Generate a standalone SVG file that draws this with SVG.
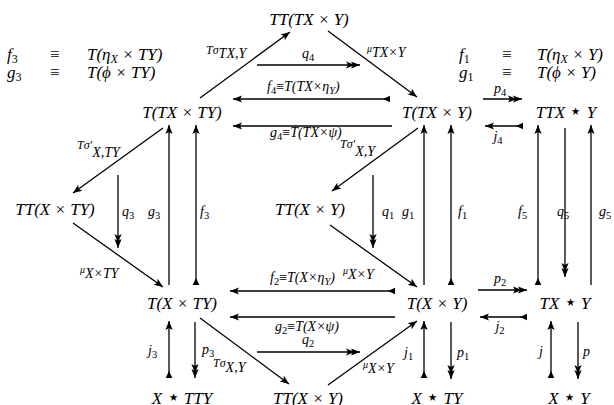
<svg xmlns="http://www.w3.org/2000/svg" width="614" height="405" viewBox="0 0 614 405">
<style>
text { font-family: "Liberation Serif", "DejaVu Serif", serif; font-style: italic; fill: #000; }
.n { font-size: 17px; text-anchor: middle; }
.d { font-size: 17px; }
.l { font-size: 14px; }
.m { text-anchor: middle; }
.up { font-style: normal; }
.st { font-size: 21px; font-style: normal; }
.c line { stroke: #000; stroke-width: 1.3; fill: none; }
</style>
<defs>
<marker id="h" markerUnits="userSpaceOnUse" markerWidth="12" markerHeight="10" viewBox="-10 -5 12 10" refX="0" refY="0" orient="auto"><path d="M-9,-3.6 L0,0 L-9,3.6 L-7,0 Z" fill="#000"/></marker>
<marker id="hh" markerUnits="userSpaceOnUse" markerWidth="17" markerHeight="10" viewBox="-15 -5 17 10" refX="0" refY="0" orient="auto"><path d="M-9,-3.6 L0,0 L-9,3.6 L-7,0 Z M-14,-3.6 L-5,0 L-14,3.6 L-12,0 Z" fill="#000"/></marker>
<marker id="t" markerUnits="userSpaceOnUse" markerWidth="10" markerHeight="10" viewBox="-1 -5 10 10" refX="0" refY="0" orient="auto"><path d="M0,-3.3 L7,0 L0,3.3 Z" fill="#000"/></marker>
</defs>

<g id="definitions">
<text class="d" x="7" y="60">f<tspan class="up" font-size="12" dy="3">3</tspan></text>
<text class="d" x="50" y="60" style="font-style:normal">≡</text>
<text class="d" x="87" y="60">T(η<tspan font-size="12" dy="3">X</tspan><tspan dy="-3"> × TY)</tspan></text>
<text class="d" x="7" y="78">g<tspan class="up" font-size="12" dy="3">3</tspan></text>
<text class="d" x="50" y="78" style="font-style:normal">≡</text>
<text class="d" x="87" y="78">T(ϕ × TY)</text>
<text class="d" x="459" y="60">f<tspan class="up" font-size="12" dy="3">1</tspan></text>
<text class="d" x="502" y="60" style="font-style:normal">≡</text>
<text class="d" x="537" y="60">T(η<tspan font-size="12" dy="3">X</tspan><tspan dy="-3"> × Y)</tspan></text>
<text class="d" x="459" y="78">g<tspan class="up" font-size="12" dy="3">1</tspan></text>
<text class="d" x="502" y="78" style="font-style:normal">≡</text>
<text class="d" x="537" y="78">T(ϕ × Y)</text>
</g>

<g id="n_TT_TXxY"><text class="n" x="309" y="25">TT(TX × Y)</text></g>
<g id="n_T_TXxTY"><text class="n" x="182" y="118">T(TX × TY)</text></g>
<g id="n_T_TXxY"><text class="n" x="437" y="118">T(TX × Y)</text></g>
<g id="n_TTXsY"><text class="n" x="566" y="118">TTX <tspan class="st">⋆</tspan> Y</text></g>
<g id="n_TT_XxTY"><text class="n" x="55" y="215">TT(X × TY)</text></g>
<g id="n_TT_XxY_mid"><text class="n" x="310" y="215">TT(X × Y)</text></g>
<g id="n_T_XxTY"><text class="n" x="182" y="309">T(X × TY)</text></g>
<g id="n_T_XxY"><text class="n" x="437" y="309">T(X × Y)</text></g>
<g id="n_TXsY"><text class="n" x="565" y="309">TX <tspan class="st">⋆</tspan> Y</text></g>
<g id="n_XsTTY"><text class="n" x="182" y="404">X <tspan class="st">⋆</tspan> TTY</text></g>
<g id="n_TT_XxY_bot"><text class="n" x="308" y="404">TT(X × Y)</text></g>
<g id="n_XsTY"><text class="n" x="437" y="404">X <tspan class="st">⋆</tspan> TY</text></g>
<g id="n_XsY"><text class="n" x="569" y="404">X <tspan class="st">⋆</tspan> Y</text></g>

<g id="connectors" class="c">
<line x1="200" y1="98" x2="290" y2="32" marker-end="url(#h)"/>
<line x1="328" y1="31" x2="417" y2="97" marker-end="url(#h)"/>
<line x1="257" y1="65" x2="360" y2="65" marker-end="url(#hh)"/>
<line x1="390" y1="99" x2="233" y2="99" marker-start="url(#t)" marker-end="url(#h)"/>
<line x1="392" y1="126" x2="233" y2="126" marker-end="url(#h)"/>
<line x1="418" y1="128" x2="332" y2="191" marker-end="url(#h)"/>
<line x1="163" y1="128" x2="73" y2="193" marker-end="url(#h)"/>
<line x1="118" y1="175" x2="118" y2="248" marker-end="url(#hh)"/>
<line x1="169" y1="285" x2="169" y2="125" marker-end="url(#h)"/>
<line x1="196" y1="285" x2="196" y2="125" marker-start="url(#t)" marker-end="url(#h)"/>
<line x1="73" y1="223" x2="163" y2="287" marker-end="url(#h)"/>
<line x1="330" y1="225" x2="417" y2="287" marker-end="url(#h)"/>
<line x1="373" y1="175" x2="373" y2="248" marker-end="url(#hh)"/>
<line x1="424" y1="285" x2="424" y2="125" marker-end="url(#h)"/>
<line x1="451" y1="285" x2="451" y2="125" marker-start="url(#t)" marker-end="url(#h)"/>
<line x1="483" y1="99" x2="522" y2="99" marker-end="url(#hh)"/>
<line x1="523" y1="126" x2="485" y2="126" marker-start="url(#t)" marker-end="url(#h)"/>
<line x1="538" y1="285" x2="538" y2="125" marker-start="url(#t)" marker-end="url(#h)"/>
<line x1="565" y1="128" x2="565" y2="277" marker-end="url(#hh)"/>
<line x1="591" y1="285" x2="591" y2="125" marker-end="url(#h)"/>
<line x1="395" y1="291" x2="230" y2="291" marker-start="url(#t)" marker-end="url(#h)"/>
<line x1="395" y1="317" x2="230" y2="317" marker-end="url(#h)"/>
<line x1="257" y1="352" x2="360" y2="352" marker-end="url(#hh)"/>
<line x1="478" y1="290" x2="527" y2="290" marker-end="url(#hh)"/>
<line x1="527" y1="317" x2="480" y2="317" marker-start="url(#t)" marker-end="url(#h)"/>
<line x1="200" y1="318" x2="289" y2="384" marker-end="url(#h)"/>
<line x1="328" y1="385" x2="417" y2="321" marker-end="url(#h)"/>
<line x1="169" y1="378" x2="169" y2="321" marker-start="url(#t)" marker-end="url(#h)"/>
<line x1="195" y1="322" x2="195" y2="378" marker-end="url(#hh)"/>
<line x1="424" y1="378" x2="424" y2="321" marker-start="url(#t)" marker-end="url(#h)"/>
<line x1="451" y1="322" x2="451" y2="379" marker-end="url(#hh)"/>
<line x1="551" y1="378" x2="551" y2="321" marker-start="url(#t)" marker-end="url(#h)"/>
<line x1="578" y1="322" x2="578" y2="379" marker-end="url(#hh)"/>
</g>

<g id="labels">
<text class="l" x="206" y="54"><tspan font-size="12">Tσ</tspan><tspan dy="4">TX,Y</tspan></text>
<text class="l" x="367" y="52"><tspan font-size="10">μ</tspan><tspan dy="5">TX×Y</tspan></text>
<text class="l m" x="308" y="58">q<tspan class="up" font-size="10.5" dy="3">4</tspan></text>
<text class="l" x="267" y="91">f<tspan class="up" font-size="10.5" dy="3">4</tspan><tspan class="up" dy="-3">≡</tspan>T(TX×η<tspan font-size="10.5" dy="3">Y</tspan><tspan dy="-3">)</tspan></text>
<text class="l" x="270" y="137">g<tspan class="up" font-size="10.5" dy="3">4</tspan><tspan class="up" dy="-3">≡</tspan>T(TX×ψ)</text>
<text class="l" x="340" y="148"><tspan font-size="12">Tσ′</tspan><tspan dy="8">X,Y</tspan></text>
<text class="l" x="77" y="149"><tspan font-size="12">Tσ′</tspan><tspan dy="8">X,TY</tspan></text>
<text class="l" x="122" y="216">q<tspan class="up" font-size="10.5" dy="3">3</tspan></text>
<text class="l" x="148" y="216">g<tspan class="up" font-size="10.5" dy="3">3</tspan></text>
<text class="l" x="200" y="216">f<tspan class="up" font-size="10.5" dy="3">3</tspan></text>
<text class="l" x="382" y="216">q<tspan class="up" font-size="10.5" dy="3">1</tspan></text>
<text class="l" x="402" y="216">g<tspan class="up" font-size="10.5" dy="3">1</tspan></text>
<text class="l" x="458" y="216">f<tspan class="up" font-size="10.5" dy="3">1</tspan></text>
<text class="l" x="518" y="216">f<tspan class="up" font-size="10.5" dy="3">5</tspan></text>
<text class="l" x="557" y="216">q<tspan class="up" font-size="10.5" dy="3">5</tspan></text>
<text class="l" x="599" y="216">g<tspan class="up" font-size="10.5" dy="3">5</tspan></text>
<text class="l" x="80" y="273"><tspan font-size="10">μ</tspan><tspan dy="5">X×TY</tspan></text>
<text class="l" x="343" y="274"><tspan font-size="10">μ</tspan><tspan dy="5">X×Y</tspan></text>
<text class="l" x="270" y="282">f<tspan class="up" font-size="10.5" dy="3">2</tspan><tspan class="up" dy="-3">≡</tspan>T(X×η<tspan font-size="10.5" dy="3">Y</tspan><tspan dy="-3">)</tspan></text>
<text class="l" x="275" y="331">g<tspan class="up" font-size="10.5" dy="3">2</tspan><tspan class="up" dy="-3">≡</tspan>T(X×ψ)</text>
<text class="l m" x="308" y="344">q<tspan class="up" font-size="10.5" dy="3">2</tspan></text>
<text class="l m" x="500" y="93">p<tspan class="up" font-size="10.5" dy="3">4</tspan></text>
<text class="l m" x="498" y="141">j<tspan class="up" font-size="10.5" dy="3">4</tspan></text>
<text class="l m" x="500" y="283">p<tspan class="up" font-size="10.5" dy="3">2</tspan></text>
<text class="l m" x="500" y="331">j<tspan class="up" font-size="10.5" dy="3">2</tspan></text>
<text class="l" x="213" y="367"><tspan font-size="12">Tσ</tspan><tspan dy="5">X,Y</tspan></text>
<text class="l" x="363" y="368"><tspan font-size="10">μ</tspan><tspan dy="5">X×Y</tspan></text>
<text class="l" x="148" y="355">j<tspan class="up" font-size="10.5" dy="3">3</tspan></text>
<text class="l" x="202" y="354">p<tspan class="up" font-size="10.5" dy="3">3</tspan></text>
<text class="l" x="404" y="357">j<tspan class="up" font-size="10.5" dy="3">1</tspan></text>
<text class="l" x="457" y="357">p<tspan class="up" font-size="10.5" dy="3">1</tspan></text>
<text class="l" x="539" y="356">j</text>
<text class="l" x="583" y="356">p</text>
</g>
</svg>
